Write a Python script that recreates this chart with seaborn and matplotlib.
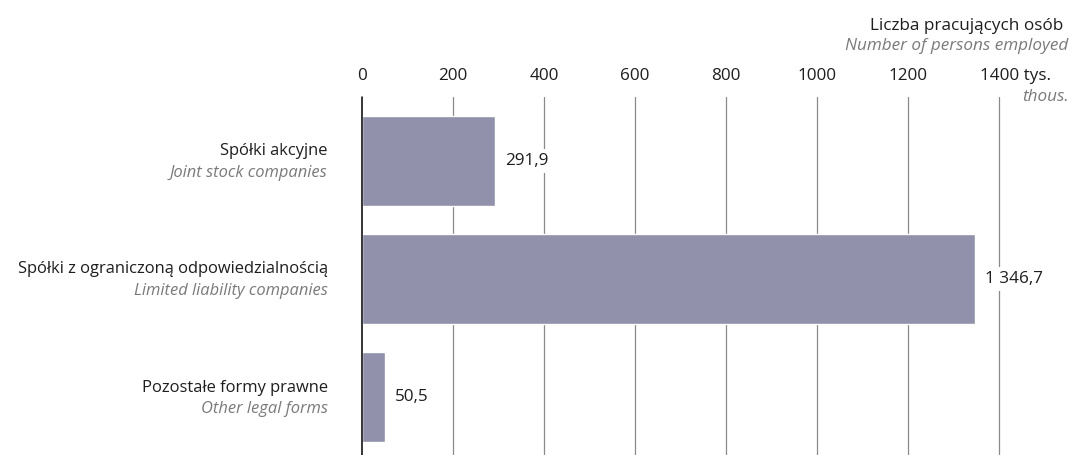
import seaborn as sns
import pandas as pd
import matplotlib.pyplot as plt

# Data
labels_pl = ["Spółki akcyjne", "Spółki z ograniczoną odpowiedzialnością", "Pozostałe formy prawne"]
labels_en = ["Joint stock companies", "Limited liability companies", "Other legal forms"]
values = [291.9, 1346.7, 50.5]
ticks = [0, 200, 400, 600, 800, 1000, 1200, 1400]

BAR = "#9191ab"
GREY = "#7a7a7a"
DARK = "#1e1e1e"
FS = 12.3

sns.set_theme(style="white")
plt.rcParams["font.family"] = ["Open Sans", "DejaVu Sans"]

df = pd.DataFrame({"cat": labels_pl, "val": values})

fig = plt.figure(figsize=(10.74, 4.55), dpi=100)
ax = fig.add_axes([0.337, 0.0, 0.593, 0.787])

sns.barplot(data=df, x="val", y="cat", orient="h", color=BAR, width=0.76,
            saturation=1, ax=ax, zorder=2)

ax.set_xlim(0, 1400)
ax.set_ylim(2.49, -0.54)

# vertical grid lines (zero line in black)
for t in ticks:
    ax.axvline(t, color="black" if t == 0 else "#8a8a8a", lw=1.1 if t == 0 else 0.9,
               zorder=3 if t == 0 else 1, clip_on=False)

for s in ax.spines.values():
    s.set_visible(False)
ax.set_xlabel("")
ax.set_ylabel("")
ax.set_yticks([])
ax.set_xticks([])

# tick labels on top
for t in ticks[:-1]:
    ax.text(t, -0.72, str(t), ha="center", va="center", fontsize=FS, color=DARK,
            clip_on=False)
ax.text(ticks[-1] - 42, -0.72, f"{ticks[-1]} tys.", ha="left", va="center", fontsize=FS,
        color=DARK, clip_on=False)

fig.text(0.995, 0.787, "thous.", ha="right", va="center", fontsize=FS, style="italic",
         color=GREY)
fig.text(0.990, 0.943, "Liczba pracujących osób", ha="right", va="center", fontsize=FS,
         color=DARK)
fig.text(0.995, 0.899, "Number of persons employed", ha="right", va="center", fontsize=FS,
         style="italic", color=GREY)

# category labels
for i, (pl, en) in enumerate(zip(labels_pl, labels_en)):
    ax.text(-75, i - 0.08, pl, ha="right", va="center", fontsize=11.9, color=DARK,
            clip_on=False)
    ax.text(-75, i + 0.1, en, ha="right", va="center", fontsize=11.9, style="italic",
            color=GREY, clip_on=False)

# value labels, Polish number format
def fmt(v):
    return f"{v:,.1f}".replace(",", " ").replace(".", ",")

for i, v in enumerate(values):
    ax.text(v + 22, i, fmt(v), ha="left", va="center", fontsize=FS, color=DARK,
            zorder=4, bbox=dict(facecolor="white", edgecolor="none", pad=3))

fig.savefig("out.png", dpi=100)
